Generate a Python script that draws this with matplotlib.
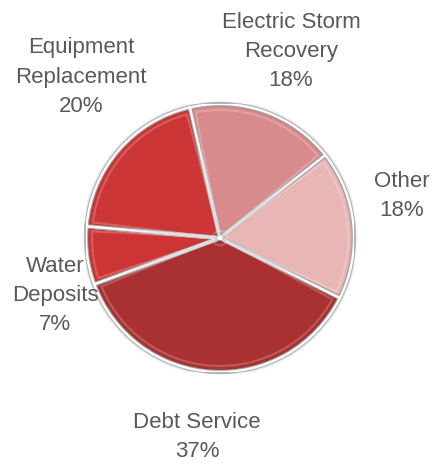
import matplotlib
matplotlib.use("Agg")
import matplotlib.pyplot as plt
from matplotlib.patches import Circle, Wedge

# Budget shares by category (percent), listed clockwise from the top
categories = ["Electric Storm\nRecovery", "Other", "Debt Service", "Water\nDeposits", "Equipment\nReplacement"]
shares = [18, 18, 37, 7, 20]

colors = ["#d98a8c", "#e9b6b6", "#a93131", "#cd3535", "#cc3636"]

# label anchor points in pixels (x from left, y from top)
label_xy = [(291, 52), (402, 196), (197, 437), (55, 295), (81, 77)]

W, H = 432, 466
fig = plt.figure(figsize=(W / 100, H / 100), dpi=100)
fig.patch.set_facecolor("white")

cx, cy, r = 220, 238, 134
ax = fig.add_axes([(cx - r) / W, (H - cy - r) / H, 2 * r / W, 2 * r / H])

# soft grey shadow around the rim
for k, a in zip([1.03, 1.02, 1.01], [0.12, 0.18, 0.3]):
    ax.add_patch(Circle((0, 0), k, facecolor="#8a8a8a", edgecolor="none", alpha=a, zorder=0))

wedges, _ = ax.pie(
    shares,
    colors=colors,
    startangle=103,
    counterclock=False,
    radius=1.0,
    wedgeprops=dict(edgecolor="#b5b5b5", linewidth=3.2),
)
for w in wedges:
    w.set_zorder(2)

for w in wedges:
    # white separator over the grey outline
    ax.add_patch(Wedge((0, 0), 1.0, w.theta1, w.theta2, facecolor="none",
                       edgecolor="white", linewidth=1.6, zorder=2.5))
    # bevel: a darker rim and a soft light band just inside each slice edge
    ax.add_patch(Wedge((0, 0), 0.985, w.theta1 + 0.8, w.theta2 - 0.8, width=0.96,
                       facecolor="none", edgecolor="black", linewidth=1.2,
                       alpha=0.10, zorder=3))
    ax.add_patch(Wedge((0, 0), 0.955, w.theta1 + 2.0, w.theta2 - 2.0, width=0.9,
                       facecolor="none", edgecolor="white", linewidth=1.5,
                       alpha=0.2, zorder=3))

ax.set_xlim(-1.0, 1.0)
ax.set_ylim(-1.0, 1.0)
ax.set_aspect("equal")
ax.axis("off")

for text, share, (x, y) in zip(categories, shares, label_xy):
    fig.text(x / W, 1 - y / H, f"{text}\n{share}%", ha="center", va="center",
             fontsize=16, color="#595959", linespacing=1.5,
             family=["Liberation Sans", "DejaVu Sans"])

fig.savefig("out.png", dpi=100, facecolor="white")
